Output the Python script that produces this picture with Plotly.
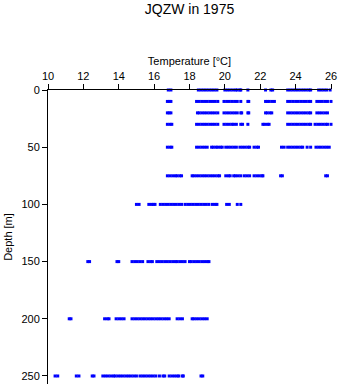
import plotly.graph_objects as go

depths = [0, 10, 20, 30, 50, 75, 100, 150, 200, 250]

t0 = [16.8, 16.95, 18.5, 18.65, 18.8, 18.95, 19.1, 19.25, 19.4, 19.55, 20.0, 20.15, 20.3, 20.45,
      20.6, 20.7, 20.85, 20.9, 21.3, 22.3, 22.6, 22.7, 23.55, 23.7, 23.85, 24.0, 24.15, 24.3, 24.45,
      24.6, 24.75, 24.85, 25.3, 25.45, 25.6, 25.75, 25.95]
t10 = [16.75, 16.85, 16.95, 18.4, 18.55, 18.7, 18.85, 19.0, 19.15, 19.3, 19.45, 19.6, 19.95, 20.1,
       20.25, 20.4, 20.55, 20.7, 20.9, 21.3, 21.35, 22.3, 22.4, 22.5, 22.65, 22.8, 23.55, 23.7, 23.85,
       24.0, 24.15, 24.3, 24.45, 24.6, 24.75, 24.85, 25.2, 25.35, 25.5, 25.65, 25.8, 26.0, 26.1]
t20 = [16.75, 16.85, 16.95, 18.45, 18.55, 18.7, 18.85, 19.0, 19.15, 19.3, 19.45, 19.6, 19.95, 20.1,
       20.25, 20.4, 20.55, 20.7, 20.9, 20.95, 21.3, 21.35, 22.3, 22.4, 22.55, 22.65, 23.55, 23.7, 23.85,
       24.0, 24.15, 24.3, 24.45, 24.6, 24.75, 24.85, 25.2, 25.35, 25.5, 25.65, 25.8, 26.05, 26.1]
t30 = [16.75, 16.9, 17.0, 18.4, 18.55, 18.7, 18.85, 19.0, 19.15, 19.3, 19.45, 19.6, 19.95, 20.1,
       20.25, 20.4, 20.5, 20.65, 20.9, 21.0, 21.3, 22.15, 22.25, 22.4, 22.5, 23.55, 23.7, 23.85,
       24.0, 24.15, 24.3, 24.45, 24.6, 24.75, 24.85, 25.1, 25.25, 25.4, 25.55, 25.7, 25.8, 26.0, 26.1]
t50 = [16.75, 16.9, 17.0, 18.4, 18.55, 18.7, 18.85, 19.0, 19.25, 19.35, 19.5, 19.6, 19.75, 19.85,
       20.05, 20.2, 20.35, 20.5, 20.65, 20.85, 21.0, 21.15, 21.3, 21.4, 21.65, 21.8, 21.9, 23.2, 23.35,
       23.55, 23.7, 23.85, 24.0, 24.15, 24.3, 24.4, 24.65, 24.85, 25.15, 25.3, 25.45, 25.6, 25.75,
       25.9, 26.05]
t75 = [16.75, 16.9, 17.05, 17.2, 17.3, 17.45, 17.55, 18.15, 18.25, 18.4, 18.55, 18.7, 18.85, 19.0,
       19.15, 19.3, 19.45, 19.6, 19.7, 20.05, 20.2, 20.3, 20.5, 20.6, 20.75, 20.9, 21.1, 21.25, 21.4,
       21.65, 21.8, 21.95, 22.1, 22.15, 23.15, 23.25, 25.7, 25.8]
t100 = [15.0, 15.15, 15.7, 15.85, 15.95, 16.05, 16.35, 16.5, 16.65, 16.8, 16.95, 17.1, 17.25, 17.4,
        17.55, 17.75, 17.9, 18.05, 18.2, 18.35, 18.5, 18.65, 18.8, 18.95, 19.1, 19.3, 19.45, 19.55,
        20.1, 20.25, 20.7, 20.9]
t150 = [12.25, 12.35, 13.9, 14.0, 14.75, 14.9, 15.05, 15.2, 15.35, 15.65, 15.8, 15.9, 16.15, 16.3,
        16.45, 16.6, 16.75, 16.9, 17.05, 17.2, 17.3, 17.45, 17.6, 17.75, 18.0, 18.1, 18.25, 18.4,
        18.55, 18.7, 18.85, 19.0, 19.1]
t200 = [11.2, 11.3, 13.2, 13.35, 13.45, 13.85, 14.0, 14.15, 14.3, 14.75, 14.9, 15.05, 15.2, 15.35,
        15.5, 15.65, 15.8, 15.95, 16.1, 16.25, 16.4, 16.55, 16.7, 16.85, 17.3, 17.45, 17.6, 18.15,
        18.25, 18.4, 18.55, 18.7, 18.85, 19.0]
t250 = [10.4, 10.55, 11.6, 11.75, 12.5, 12.6, 13.1, 13.25, 13.4, 13.55, 13.7, 13.8, 13.95, 14.1,
        14.25, 14.4, 14.55, 14.7, 14.85, 15.0, 15.2, 15.35, 15.5, 15.65, 15.8, 15.95, 16.1, 16.3,
        16.5, 16.6, 16.85, 17.0, 17.15, 17.3, 17.4, 17.6, 17.65, 18.65, 18.75]

temps = [t0, t10, t20, t30, t50, t75, t100, t150, t200, t250]
x_ticks = [10, 12, 14, 16, 18, 20, 22, 24, 26]
y_ticks = [0, 50, 100, 150, 200, 250]

xs, ys = [], []
for d, tl in zip(depths, temps):
    xs.extend(tl)
    ys.extend([d] * len(tl))

FONT = "Liberation Sans, Arial, sans-serif"

fig = go.Figure(go.Scatter(
    x=xs, y=ys, mode="markers",
    marker=dict(symbol="square", size=3, color="#0000FF", line=dict(width=0)),
    cliponaxis=False, showlegend=False,
))

fig.update_layout(
    width=341, height=384,
    margin=dict(l=48, r=10, t=90, b=0),
    paper_bgcolor="white", plot_bgcolor="white",
    font=dict(family=FONT, size=11, color="black"),
    title=dict(text="JQZW in 1975", x=0.5, xref="paper", y=1 - 9 / 384, yref="container",
               yanchor="middle", xanchor="center", font=dict(size=14, color="black")),
    xaxis=dict(side="top", range=[10, 26], tickvals=x_ticks, ticks="outside", ticklen=5,
               tickcolor="black", showline=True, linecolor="black", linewidth=1,
               showgrid=False, zeroline=False, tickfont=dict(color="black"),
               title=dict(text="Temperature [°C]", standoff=1, font=dict(size=11))),
    yaxis=dict(range=[257, 0], tickvals=y_ticks, ticks="outside", ticklen=5,
               tickcolor="black", showline=True, linecolor="black", linewidth=1,
               showgrid=False, zeroline=False, tickfont=dict(color="black"),
               title=dict(text="Depth [m]", standoff=6, font=dict(size=11))),
)

fig.write_html("out.html")
